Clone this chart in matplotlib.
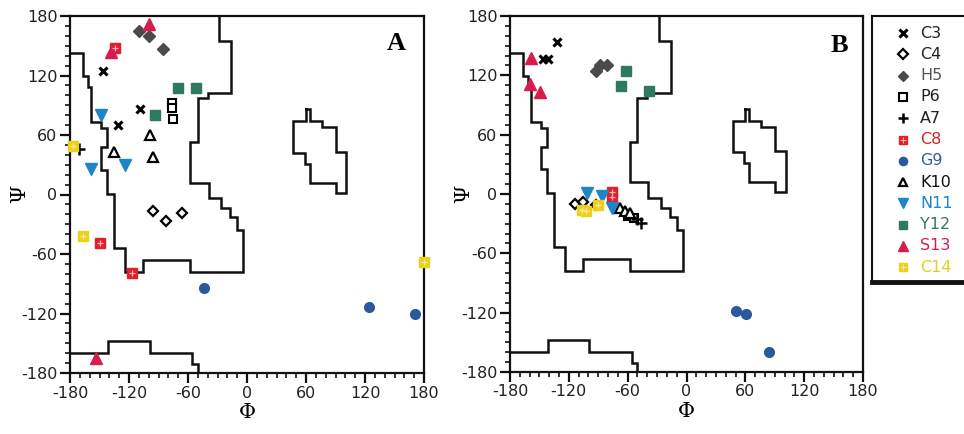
import matplotlib
matplotlib.use("Agg")
import matplotlib.pyplot as plt
from matplotlib.ticker import MultipleLocator
import numpy as np

W, H = 964, 434

residues = ['C3', 'C4', 'H5', 'P6', 'A7', 'C8', 'G9', 'K10', 'N11', 'Y12', 'S13', 'C14']

phi_A = [[-146, -109, -131], [-96, -82, -66], [-110, -100, -85], [-76, -76, -75], [-171],
         [-134, -150, -117], [-44, 124, 171], [-135, -99, -96], [-148, -159, -124],
         [-70, -52, -94], [-100, -138, -154], [-177, -167, 180]]
psi_A = [[125, 86, 70], [-17, -27, -19], [165, 160, 147], [92, 87, 76], [46],
         [148, -49, -79], [-94, -113, -121], [43, 60, 38], [80, 26, 30],
         [107, 107, 80], [172, 144, -165], [49, -42, -68]]

phi_B = [[-132, -146, -141], [-114, -106, -92], [-92, -88, -81], [-60, -54], [-50, -46],
         [-76, -76], [50, 61, 84], [-68, -63, -58], [-101, -86, -76],
         [-62, -67, -38], [-159, -160, -149], [-107, -102, -90]]
psi_B = [[154, 137, 137], [-10, -8, -11], [124, 130, 130], [-22, -24], [-25, -29],
         [2, -3], [-118, -121, -160], [-14, -17, -19], [1, -2, -14],
         [124, 109, 104], [138, 111, 103], [-16, -17, -11]]

# allowed-region outlines (degrees)
main_phi = [-180, -167, -167, -162, -162, -159, -159, -148, -148, -142, -142, -148, -148, -142, -142,
            -135, -135, -124, -124, -106, -106, -58, -58, -4, -4, -10, -10, -17, -17, -26, -26,
            -39, -39, -58, -58, -50, -50, -40, -40, -16, -16, -28, -28]
main_psi = [143, 143, 119, 119, 108, 108, 73, 73, 67, 67, 48, 48, 25, 25, 1,
            1, -54, -54, -78, -78, -66, -66, -78, -78, -36, -36, -23, -23, -14, -14, -4,
            -4, 12, 12, 53, 53, 97, 97, 102, 102, 155, 155, 180]
low_phi = [-180, -141, -141, -99, -99, -56, -56, -50, -50]
low_psi = [-160, -160, -148, -148, -160, -160, -171, -171, -180]
isl_phi = [60, 64, 64, 76, 76, 90, 90, 101, 101, 90, 90, 64, 64, 59, 59, 47, 47, 60, 60]
isl_psi = [86, 86, 74, 74, 68, 68, 43, 43, 2, 2, 12, 12, 31, 31, 42, 42, 74, 74, 86]

colors = ['black', 'black', '#4a4a4a', 'black', 'black', '#e0202c', '#2b5a9c', 'black',
          '#1c86c8', '#2e7a5e', '#d81c4c', '#e8d21c']
text_colors = ['#222222', '#222222', '#555555', '#222222', '#222222', '#d8202c', '#3a5a9a',
               '#111111', '#1a86c8', '#2e7a5e', '#d81c4c', '#e0d020']


def style(i):
    c = colors[i]
    d = dict(linestyle='none', ms=6.5)
    name = residues[i]
    if name == 'C3':
        d.update(marker='x', color=c, mew=2.2, ms=6)
    elif name == 'C4':
        d.update(marker='D', mfc='white', mec=c, mew=1.6, ms=5.5)
    elif name == 'H5':
        d.update(marker='D', mfc=c, mec=c, ms=6)
    elif name == 'P6':
        d.update(marker='s', mfc='white', mec=c, mew=1.5, ms=6)
    elif name == 'A7':
        d.update(marker='+', color=c, mew=1.8, ms=8)
    elif name in ('C8', 'C14'):
        d.update(marker='s', mfc=c, mec=c, ms=7)
    elif name == 'G9':
        d.update(marker='o', mfc=c, mec=c, ms=7)
    elif name == 'K10':
        d.update(marker='^', mfc='white', mec=c, mew=1.6, ms=6.5)
    elif name == 'N11':
        d.update(marker='v', mfc=c, mec=c, ms=8)
    elif name == 'Y12':
        d.update(marker='s', mfc=c, mec=c, ms=7.5)
    elif name == 'S13':
        d.update(marker='^', mfc=c, mec=c, ms=8)
    return d


def draw_pts(ax, x, y, i):
    ax.plot(x, y, clip_on=False, zorder=3, **style(i))
    if residues[i] in ('C8', 'C14'):
        ax.plot(x, y, linestyle='none', marker='+', color='#ffe9a0' if residues[i] == 'C14' else '#ffb0b0',
                ms=5, mew=0.9, clip_on=False, zorder=4)


def fig_rect(x0, y0, x1, y1):
    return [x0 / W, 1 - y1 / H, (x1 - x0) / W, (y1 - y0) / H]


fig = plt.figure(figsize=(W / 100, H / 100), dpi=100)

panels = [(fig_rect(70, 16, 424, 373), phi_A, psi_A, 'A', (396, 44), 20),
          (fig_rect(510, 16, 863, 372), phi_B, psi_B, 'B', (839, 46), 464)]

for rect, PH, PS, lab, lpos, ylx in panels:
    ax = fig.add_axes(rect)
    ax.set_xlim(-180, 180)
    ax.set_ylim(-180, 180)
    for s in ax.spines.values():
        s.set_linewidth(1.6)
        s.set_color('#111111')
    ax.xaxis.set_major_locator(MultipleLocator(60))
    ax.yaxis.set_major_locator(MultipleLocator(60))
    ax.xaxis.set_minor_locator(MultipleLocator(10))
    ax.yaxis.set_minor_locator(MultipleLocator(10))
    ax.tick_params(which='major', direction='out', length=7, width=1.6, labelsize=11.5,
                   color='#111111', pad=2, top=False, right=False)
    ax.tick_params(which='minor', direction='out', length=3.5, width=1.2, color='#111111',
                   top=False, right=False)
    ax.set_xticks([-180, -120, -60, 0, 60, 120, 180])
    ax.set_yticks([-180, -120, -60, 0, 60, 120, 180])
    ax.set_xticklabels(['-180', '-120', '-60', '0', '60', '120', '180'])
    ax.set_yticklabels(['-180', '-120', '-60', '0', '60', '120', '180'])
    for t in ax.get_xticklabels() + ax.get_yticklabels():
        t.set_color('#222222')
    ax.plot(main_phi, main_psi, color='#111111', lw=1.8, zorder=2, solid_joinstyle='miter')
    ax.plot(low_phi, low_psi, color='#111111', lw=1.8, zorder=2, solid_joinstyle='miter')
    ax.plot(isl_phi, isl_psi, color='#111111', lw=1.8, zorder=2, solid_joinstyle='miter')
    for i in range(len(residues)):
        draw_pts(ax, PH[i], PS[i], i)
    ax.set_xlabel('Φ', fontsize=15, family='DejaVu Serif', labelpad=2)
    fig.text(ylx / W, 1 - 194 / H, 'Ψ', fontsize=15, family='DejaVu Serif',
             rotation=90, ha='center', va='center')
    fig.text(lpos[0] / W, 1 - lpos[1] / H, lab, fontsize=19, fontweight='bold',
             family='Liberation Serif', ha='center', va='center')

# legend box
lax = fig.add_axes(fig_rect(872, 16, 990, 282))
lax.set_xlim(872, 990)
lax.set_ylim(282, 16)
lax.set_xticks([])
lax.set_yticks([])
for s in lax.spines.values():
    s.set_linewidth(1.5)
    s.set_color('#111111')
lax.spines['bottom'].set_linewidth(3.5)
y0, dy = 33, 21.3
for i, name in enumerate(residues):
    y = y0 + i * dy
    st = style(i)
    st['ms'] = st['ms'] * 0.85
    lax.plot([903], [y], clip_on=False, **st)
    if name in ('C8', 'C14'):
        lax.plot([903], [y], linestyle='none', marker='+', ms=4, mew=0.8,
                 color='#ffe9a0' if name == 'C14' else '#ffb0b0')
    lax.text(920, y, name, color=text_colors[i], fontsize=11.5, va='center', ha='left')

fig.savefig('out.png', dpi=100)
